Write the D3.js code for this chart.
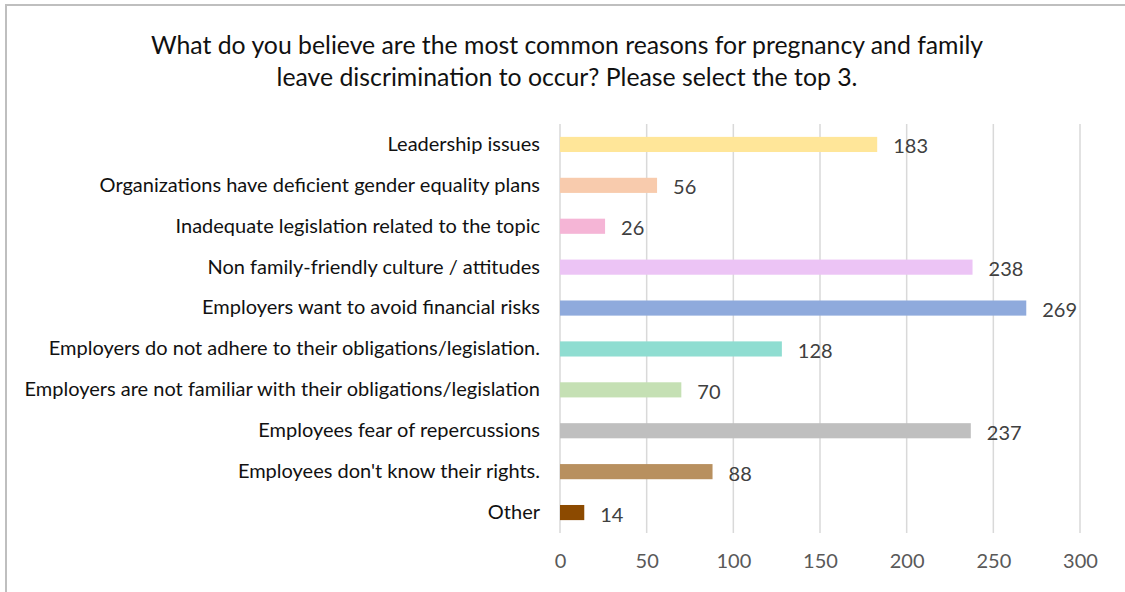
<!DOCTYPE html>
<html><head><meta charset="utf-8">
<script src="https://cdn.jsdelivr.net/npm/d3@7"></script>
<style>body{margin:0;background:#fff;} svg{display:block;}</style>
</head><body>
<script>
const categories = [
  "Leadership issues",
  "Organizations have deficient gender equality plans",
  "Inadequate legislation related to the topic",
  "Non family-friendly culture / attitudes",
  "Employers want to avoid financial risks",
  "Employers do not adhere to their obligations/legislation.",
  "Employers are not familiar with their obligations/legislation",
  "Employees fear of repercussions ",
  "Employees don't know their rights.",
  "Other"
];
const values = [183, 56, 26, 238, 269, 128, 70, 237, 88, 14];
const colors = ["#FFE699","#F8CBAD","#F5B5D6","#ECC4F5","#8FAADC","#8FDDD1","#C5E0B4","#BFBFBF","#B8905F","#8C4A00"];
const tickValues = [0, 50, 100, 150, 200, 250, 300];
const titleLines = ["What do you believe are the most common reasons for pregnancy and family", "leave discrimination to occur? Please select the top 3."];

const W = 1125, H = 592;
const font = "Lato, 'Open Sans', sans-serif";
const svg = d3.select("body").append("svg").attr("width", W).attr("height", H);

svg.append("rect").attr("x", 6).attr("y", 5).attr("width", W + 10).attr("height", H + 10)
  .attr("fill", "#fff").attr("stroke", "#BFBFBF").attr("stroke-width", 2);

const plot = {left: 560, right: 1080, top: 124, bottom: 533};
const x = d3.scaleLinear().domain([0, 300]).range([plot.left, plot.right]);
const y = d3.scaleBand().domain(categories).range([plot.top, plot.bottom]).paddingInner(0.63).paddingOuter(0.315);

// title
svg.append("g").selectAll("text").data(titleLines).join("text")
  .attr("x", 567).attr("y", (d, i) => 54 + i * 32)
  .attr("text-anchor", "middle").attr("font-family", font).attr("font-size", 24.8)
  .attr("fill", "#111").text(d => d);

// gridlines
svg.append("g").selectAll("line").data(tickValues).join("line")
  .attr("x1", d => x(d)).attr("x2", d => x(d))
  .attr("y1", plot.top).attr("y2", plot.bottom)
  .attr("stroke", "#D9D9D9").attr("stroke-width", 1.5);

// x axis tick labels
const xAxis = d3.axisBottom(x).tickValues(tickValues).tickSize(0).tickPadding(0);
const gx = svg.append("g").attr("transform", `translate(0,${plot.bottom + 21})`).call(xAxis);
gx.select(".domain").remove();
gx.selectAll("text").attr("font-family", font).attr("font-size", 20).attr("fill", "#595959");

// y axis labels
const yAxis = d3.axisLeft(y).tickSize(0).tickPadding(20);
const gy = svg.append("g").attr("transform", `translate(${plot.left},0)`).call(yAxis);
gy.select(".domain").remove();
gy.selectAll("text").attr("font-family", font).attr("font-size", 20).attr("fill", "#111");

// bars
svg.append("g").selectAll("rect").data(values).join("rect")
  .attr("x", x(0)).attr("y", (d, i) => y(categories[i]))
  .attr("width", d => x(d) - x(0)).attr("height", y.bandwidth())
  .attr("fill", (d, i) => colors[i]);

// value labels
svg.append("g").selectAll("text").data(values).join("text")
  .attr("x", d => x(d) + 16).attr("y", (d, i) => y(categories[i]) + y.bandwidth() / 2 + 9)
  .attr("font-family", font).attr("font-size", 20).attr("fill", "#404040")
  .text(d => d);
</script>
</body></html>
